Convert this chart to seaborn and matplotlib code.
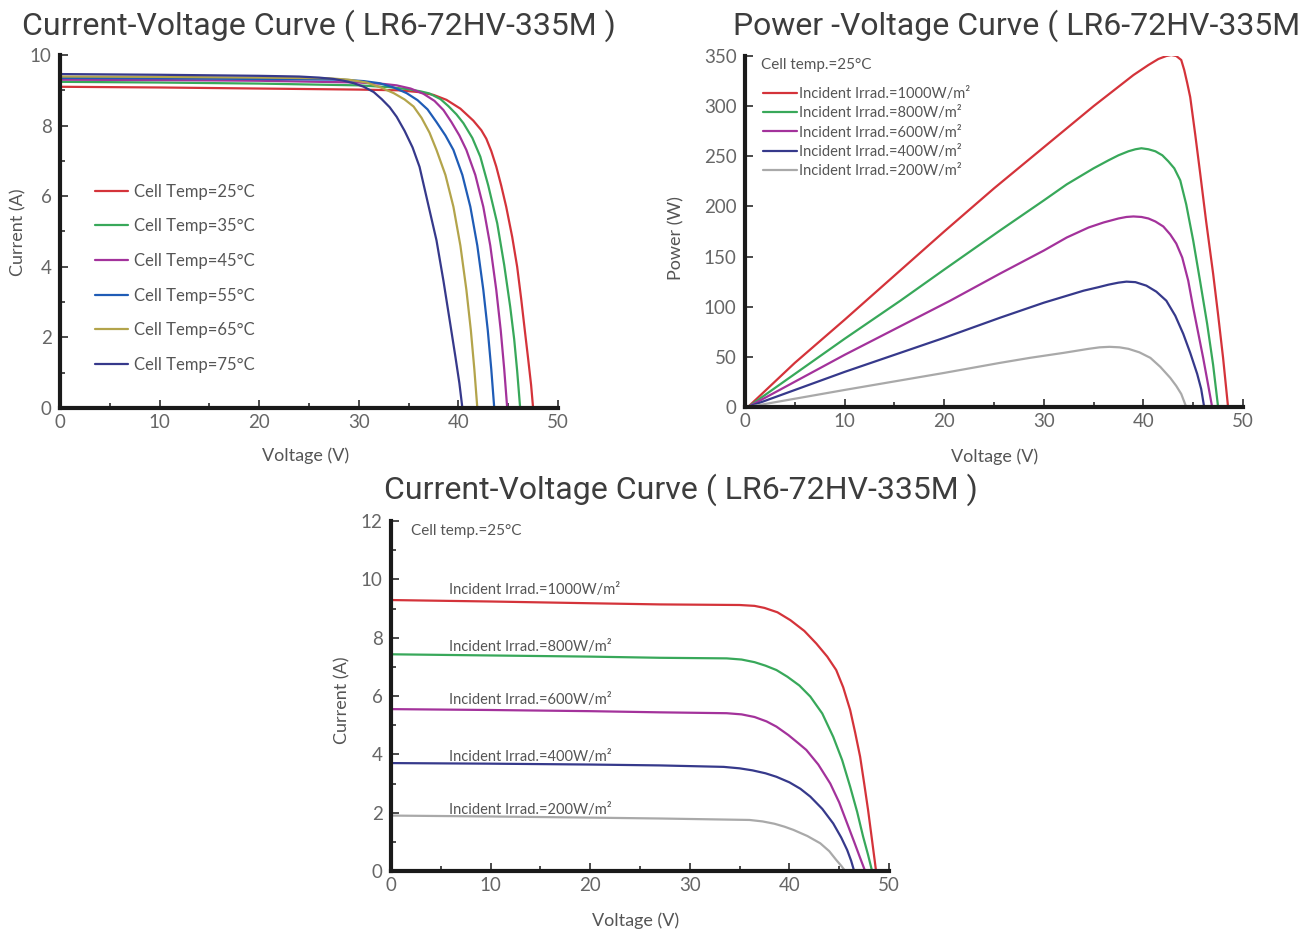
import numpy as np
import pandas as pd
import matplotlib
matplotlib.use("Agg")
import matplotlib.pyplot as plt
from matplotlib.ticker import MultipleLocator, NullLocator
import seaborn as sns

# ---------------- data ----------------
# Chart 1: I-V curves by cell temperature
temp_labels = ["Cell Temp=25°C", "Cell Temp=35°C", "Cell Temp=45°C",
               "Cell Temp=55°C", "Cell Temp=65°C", "Cell Temp=75°C"]
iv_t25_v = [0, 10, 20, 30, 34, 36, 37.5, 38.8, 40.2, 41.5, 42.3, 42.8, 43.3, 43.8, 44.3,
            44.8, 45.4, 45.9, 46.3, 46.7, 47.0, 47.3, 47.5]
iv_t25_i = [9.10, 9.08, 9.05, 9.02, 9.00, 8.95, 8.87, 8.73, 8.48, 8.14, 7.87, 7.63, 7.28,
            6.84, 6.30, 5.70, 4.85, 4.00, 3.10, 2.12, 1.40, 0.65, 0.0]
iv_t35_v = [0, 10, 20, 30, 33, 35, 36.2, 37.1, 38.2, 39.0, 39.8, 40.5, 41.4, 42.2, 43.0,
            43.9, 44.6, 45.2, 45.6, 45.9, 46.2]
iv_t35_i = [9.24, 9.22, 9.19, 9.14, 9.09, 9.03, 8.97, 8.91, 8.75, 8.55, 8.32, 8.07, 7.65,
            7.12, 6.30, 5.23, 4.05, 2.87, 1.95, 1.05, 0.0]
iv_t45_v = [0, 10, 20, 30, 32.5, 33.8, 35.2, 36.5, 37.6, 38.5, 39.3, 40.1, 40.8, 41.7,
            42.5, 43.2, 43.8, 44.25, 44.6, 44.9]
iv_t45_i = [9.30, 9.29, 9.27, 9.22, 9.18, 9.14, 9.05, 8.90, 8.70, 8.44, 8.10, 7.72, 7.31,
            6.60, 5.70, 4.60, 3.35, 2.20, 1.10, 0.0]
iv_t55_v = [0, 10, 20, 28.5, 30.5, 32.1, 33.5, 34.8, 35.9, 36.9, 37.8, 38.7, 39.5, 40.4,
            41.2, 41.9, 42.5, 42.95, 43.3, 43.6]
iv_t55_i = [9.35, 9.34, 9.32, 9.30, 9.26, 9.20, 9.08, 8.92, 8.72, 8.46, 8.10, 7.72, 7.31,
            6.60, 5.70, 4.60, 3.35, 2.20, 1.10, 0.0]
iv_t65_v = [0, 10, 20, 27, 29, 30.8, 32.2, 33.5, 34.6, 35.5, 36.3, 37.1, 37.8, 38.7,
            39.5, 40.2, 40.8, 41.25, 41.6, 41.9]
iv_t65_i = [9.39, 9.38, 9.36, 9.34, 9.30, 9.22, 9.08, 8.92, 8.74, 8.54, 8.22, 7.80, 7.31,
            6.60, 5.70, 4.60, 3.35, 2.20, 1.10, 0.0]
iv_t75_v = [0, 10, 20, 24, 26, 27.5, 28.5, 29.5, 30.5, 31.5, 32.3, 33.1, 33.8, 34.6, 35.4,
            36.1, 36.9, 37.8, 38.5, 39.2, 39.7, 40.1, 40.4]
iv_t75_i = [9.46, 9.44, 9.41, 9.39, 9.36, 9.32, 9.27, 9.20, 9.10, 8.95, 8.75, 8.52, 8.25,
            7.85, 7.38, 6.83, 5.85, 4.75, 3.60, 2.35, 1.45, 0.70, 0.0]

# Chart 2: P-V curves by irradiance
irr_labels = ["Incident Irrad.=1000W/m²", "Incident Irrad.=800W/m²",
              "Incident Irrad.=600W/m²", "Incident Irrad.=400W/m²",
              "Incident Irrad.=200W/m²"]
pv_1000_v = [0.3, 5, 10, 15, 20, 25, 30, 35, 39, 40.5, 41.5, 42.3, 42.8, 43.3, 43.8, 44.1,
             44.4, 44.7, 45.2, 45.7, 46.3, 47.0, 47.5, 48.0, 48.5]
pv_1000_p = [0, 44, 87, 131, 175, 218, 259, 300, 331, 341, 347, 350, 351, 350, 346, 336,
             323, 309, 272, 233, 185, 133, 92, 49, 0]
pv_800_v = [0.3, 10, 15.6, 20, 25.6, 30, 32.3, 35, 36.5, 37.5, 38.5, 39.2, 39.8, 40.5, 41.2,
            41.9, 42.5, 43.1, 43.7, 44.3, 45.0, 45.7, 46.4, 47.0, 47.5]
pv_800_p = [0, 68, 106, 137, 176, 206, 222, 238, 246, 251, 255, 257, 258, 257, 255, 251,
            245, 238, 226, 202, 166, 125, 83, 42, 0]
pv_600_v = [0.3, 10, 20.6, 25.6, 30, 32.3, 34.5, 36, 37.5, 38.3, 39.0, 39.8, 40.5, 41.2,
            42.0, 42.7, 43.3, 43.9, 44.5, 45.0, 45.5, 46.0, 46.5, 46.9]
pv_600_p = [0, 52, 106, 133, 156, 169, 179, 184, 188, 189.5, 190, 189.5, 188, 185, 180, 172,
            163, 149, 126, 99, 74, 49, 22, 0]
pv_400_v = [0.3, 10, 20, 25.6, 30, 34, 35.5, 36.5, 37.5, 38.3, 39.2, 40.3, 41.3, 42.3, 43.2,
            44.0, 44.7, 45.4, 45.8, 46.1]
pv_400_p = [0, 35, 69, 89, 104, 116, 119.5, 122, 124, 125, 124.5, 121, 115, 106, 91, 73,
            54, 33, 18, 0]
pv_200_v = [0.3, 10, 20, 25.6, 28.6, 32, 34.5, 35.6, 36.6, 37.6, 38.5, 39.6, 40.7, 41.7,
            42.7, 43.3, 43.8, 44.3]
pv_200_p = [0, 17, 34, 44, 49, 54, 58, 59.5, 60, 59.5, 58, 54.5, 49, 40, 29, 21, 13, 0]

# Chart 3: I-V curves by irradiance
iv_1000_v = [0, 10, 20, 27, 35, 36.5, 37.5, 38.8, 40.1, 41.5, 42.7, 43.8, 44.7, 45.4, 46.1,
             46.6, 47.1, 47.5, 47.9, 48.3, 48.7]
iv_1000_i = [9.29, 9.24, 9.18, 9.14, 9.12, 9.09, 9.02, 8.87, 8.60, 8.23, 7.80, 7.35, 6.89,
             6.30, 5.52, 4.75, 3.92, 3.02, 2.09, 1.05, 0.0]
iv_800_v = [0, 10, 20, 27, 33.7, 35.2, 36.5, 37.6, 38.7, 39.8, 41.0, 42.1, 43.3, 44.4, 45.3,
            46.1, 46.8, 47.4, 47.9, 48.3]
iv_800_i = [7.43, 7.39, 7.35, 7.31, 7.29, 7.25, 7.16, 7.04, 6.89, 6.66, 6.36, 5.98, 5.40,
            4.60, 3.80, 2.89, 2.03, 1.18, 0.55, 0.0]
iv_600_v = [0, 10, 20, 27, 33.7, 35.2, 36.5, 37.7, 38.7, 39.9, 40.9, 41.7, 42.9, 44.1, 45.0,
            45.8, 46.5, 47.1, 47.6]
iv_600_i = [5.55, 5.52, 5.48, 5.44, 5.41, 5.37, 5.28, 5.13, 4.95, 4.66, 4.38, 4.15, 3.65,
            3.00, 2.35, 1.63, 1.00, 0.45, 0.0]
iv_400_v = [0, 10, 20, 27, 33.4, 35, 36.3, 37.6, 38.7, 40.0, 41.1, 42.1, 43.3, 44.4, 45.2,
            45.8, 46.2, 46.5]
iv_400_i = [3.70, 3.68, 3.65, 3.62, 3.57, 3.52, 3.45, 3.35, 3.23, 3.04, 2.82, 2.55, 2.13,
            1.63, 1.15, 0.72, 0.35, 0.0]
iv_200_v = [0, 10, 20, 27, 36.0, 37.3, 38.5, 39.5, 40.4, 41.8, 43.1, 44.0, 44.7, 45.2, 45.6]
iv_200_i = [1.90, 1.87, 1.83, 1.80, 1.75, 1.70, 1.62, 1.52, 1.41, 1.20, 0.95, 0.68, 0.38,
            0.18, 0.0]

irr_text_y = [9.63, 7.68, 5.86, 3.91, 2.09]

# ---------------- style ----------------
RED, GREEN, MAG, BLUE, OLIVE, NAVY, GRAY = ("#d4333a", "#38a85a", "#a3329b",
                                            "#1f5cb6", "#b3a44b", "#36398b", "#a9a9a9")
temp_colors = [RED, GREEN, MAG, BLUE, OLIVE, NAVY]
irr_colors = [RED, GREEN, MAG, NAVY, GRAY]

sns.set_style("ticks")
plt.rcParams["font.family"] = ["Lato", "DejaVu Sans"]
TXT = "#555555"
TITLE = "#3d3d3d"


def long_df(labels, xs, ys):
    frames = []
    for lab, x, y in zip(labels, xs, ys):
        frames.append(pd.DataFrame({"V": x, "Y": y, "series": lab}))
    return pd.concat(frames, ignore_index=True)


def style_axes(ax, ymax, ymaj, ymin):
    ax.set_xlim(0, 50)
    ax.set_ylim(0, ymax)
    sns.despine(ax=ax)
    for s in ("left", "bottom"):
        ax.spines[s].set_linewidth(3.0)
        ax.spines[s].set_color("#1a1a1a")
    ax.xaxis.set_major_locator(MultipleLocator(10))
    ax.xaxis.set_minor_locator(MultipleLocator(5))
    ax.yaxis.set_major_locator(MultipleLocator(ymaj))
    if ymin:
        ax.yaxis.set_minor_locator(MultipleLocator(ymin))
    else:
        ax.yaxis.set_minor_locator(NullLocator())
    ax.tick_params(which="major", direction="in", length=5.5, width=1.1,
                   color="#1a1a1a", labelsize=13.5, labelcolor="#666666")
    ax.tick_params(which="minor", direction="in", length=3.5, width=1.1,
                   color="#1a1a1a")
    ax.tick_params(axis="x", which="major", pad=4)
    ax.tick_params(axis="y", which="major", pad=6)
    ax.set_xlabel("Voltage (V)", fontsize=13, color=TXT)


fig = plt.figure(figsize=(13, 9.35), dpi=100)
TFONT = ["Roboto", "DejaVu Sans"]

# ---- Chart 1 ----
ax1 = fig.add_axes([60 / 1300, 1 - 408 / 935, 498 / 1300, 353 / 935])
df1 = long_df(temp_labels,
              [iv_t25_v, iv_t35_v, iv_t45_v, iv_t55_v, iv_t65_v, iv_t75_v],
              [iv_t25_i, iv_t35_i, iv_t45_i, iv_t55_i, iv_t65_i, iv_t75_i])
sns.lineplot(data=df1, x="V", y="Y", hue="series", hue_order=temp_labels,
             palette=temp_colors, sort=False, estimator=None, linewidth=1.6, ax=ax1)
style_axes(ax1, 10, 2, 1)
ax1.set_ylabel("Current (A)", fontsize=13, color=TXT)
ax1.yaxis.set_label_coords(-0.067, 0.499)
ax1.xaxis.set_label_coords(0.494, -0.113)
h, l = ax1.get_legend_handles_labels()
ax1.get_legend().remove()
ax1.legend(h, l, loc="upper left", bbox_to_anchor=(95 / 1300, 1 - 183.5 / 935),
           bbox_transform=fig.transFigure, frameon=False, fontsize=12,
           handlelength=1.95, handletextpad=0.4, labelspacing=1.12,
           borderpad=0, borderaxespad=0, labelcolor=TXT)
fig.text(22 / 1300, 1 - 26 / 935, "Current-Voltage Curve ( LR6-72HV-335M )",
         fontsize=23, color=TITLE, family=TFONT, ha="left", va="center")

# ---- Chart 2 ----
ax2 = fig.add_axes([745 / 1300, 1 - 407 / 935, 498 / 1300, 351 / 935])
df2 = long_df(irr_labels,
              [pv_1000_v, pv_800_v, pv_600_v, pv_400_v, pv_200_v],
              [pv_1000_p, pv_800_p, pv_600_p, pv_400_p, pv_200_p])
sns.lineplot(data=df2, x="V", y="Y", hue="series", hue_order=irr_labels,
             palette=irr_colors, sort=False, estimator=None, linewidth=1.6, ax=ax2)
style_axes(ax2, 350, 50, None)
ax2.set_ylabel("Power (W)", fontsize=13, color=TXT)
ax2.yaxis.set_label_coords(-0.121, 0.481)
ax2.xaxis.set_label_coords(0.502, -0.117)
h, l = ax2.get_legend_handles_labels()
ax2.get_legend().remove()
ax2.legend(h, l, loc="upper left", bbox_to_anchor=(763 / 1300, 1 - 87 / 935),
           bbox_transform=fig.transFigure, frameon=False, fontsize=10.5,
           handlelength=2.3, handletextpad=0.15, labelspacing=0.36,
           borderpad=0, borderaxespad=0, labelcolor=TXT)
fig.text(761 / 1300, 1 - 65 / 935, "Cell temp.=25°C", fontsize=11, color=TXT,
         ha="left", va="center")
fig.text(733 / 1300, 1 - 26 / 935, "Power -Voltage Curve ( LR6-72HV-335M",
         fontsize=23, color=TITLE, family=TFONT, ha="left", va="center")

# ---- Chart 3 ----
ax3 = fig.add_axes([391 / 1300, 1 - 871 / 935, 498 / 1300, 350 / 935])
df3 = long_df(irr_labels,
              [iv_1000_v, iv_800_v, iv_600_v, iv_400_v, iv_200_v],
              [iv_1000_i, iv_800_i, iv_600_i, iv_400_i, iv_200_i])
sns.lineplot(data=df3, x="V", y="Y", hue="series", hue_order=irr_labels,
             palette=irr_colors, sort=False, estimator=None, linewidth=1.6,
             legend=False, ax=ax3)
style_axes(ax3, 12, 2, 1)
ax3.set_ylabel("Current (A)", fontsize=13, color=TXT)
ax3.yaxis.set_label_coords(-0.081, 0.489)
ax3.xaxis.set_label_coords(0.492, -0.117)
for lab, ty in zip(irr_labels, irr_text_y):
    ax3.text(5.8, ty, lab, fontsize=10.5, color=TXT, ha="left", va="center")
ax3.text(2.0, 11.65, "Cell temp.=25°C", fontsize=11, color=TXT, ha="left", va="center")
fig.text(681 / 1300, 1 - 490 / 935, "Current-Voltage Curve ( LR6-72HV-335M )",
         fontsize=23, color=TITLE, family=TFONT, ha="center", va="center")

fig.savefig("out.png", dpi=100)
